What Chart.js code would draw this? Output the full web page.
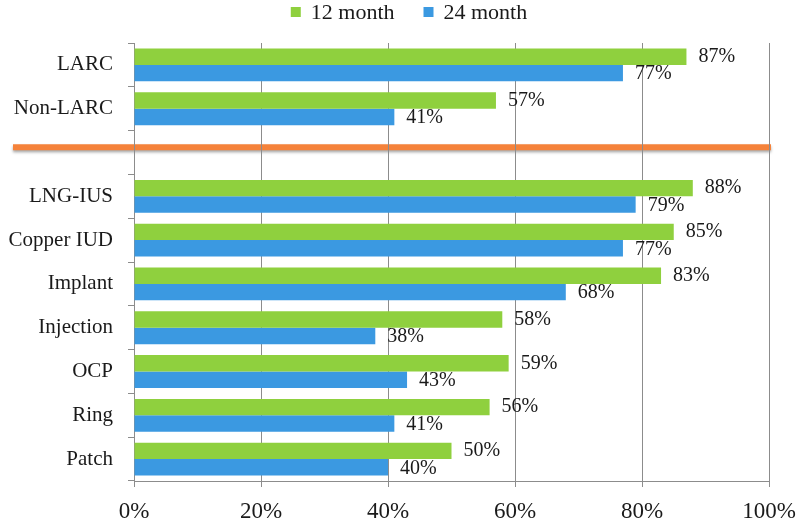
<!DOCTYPE html>
<html>
<head>
<meta charset="utf-8">
<script src="https://cdn.jsdelivr.net/npm/chart.js@4/dist/chart.umd.min.js"></script>
<style>
  html, body { margin: 0; padding: 0; background: #ffffff; }
  #c { display: block; }
</style>
</head>
<body>
<canvas id="c" width="800" height="519"></canvas>
<script>
// ---- data ----
const categories = ["LARC", "Non-LARC", "", "LNG-IUS", "Copper IUD", "Implant", "Injection", "OCP", "Ring", "Patch"];
const month12 = [87, 57, null, 88, 85, 83, 58, 59, 56, 50];
const month24 = [77, 41, null, 79, 77, 68, 38, 43, 41, 40];
const seriesNames = ["12 month", "24 month"];
const xTicks = [0, 20, 40, 60, 80, 100];

const GREEN = "#8fd03e";
const BLUE = "#3b99e1";
const GRID = "#8c8c8c";
const ORANGE = "#f5823a";
const SERIF = "'Liberation Serif', 'DejaVu Serif', serif";

const valueLabels = {
  id: "valueLabels",
  afterDatasetsDraw(chart) {
    const ctx = chart.ctx;
    ctx.save();
    ctx.font = "20px " + SERIF;
    ctx.fillStyle = "#1a1a1a";
    ctx.textAlign = "left";
    ctx.textBaseline = "middle";
    chart.data.datasets.forEach((ds, di) => {
      const meta = chart.getDatasetMeta(di);
      meta.data.forEach((el, i) => {
        const v = ds.data[i];
        if (v === null || v === undefined) return;
        ctx.fillText(v + "%", el.x + 12, el.y + (di === 1 ? 1 : 0));
      });
    });
    ctx.restore();
  }
};

const separator = {
  id: "separator",
  beforeDraw(chart) {
    const ctx = chart.ctx;
    const y = chart.scales.y.getPixelForValue(1.88);
    ctx.save();
    ctx.strokeStyle = ORANGE;
    ctx.lineWidth = 6;
    ctx.shadowColor = "rgba(0,0,0,0.35)";
    ctx.shadowBlur = 3;
    ctx.shadowOffsetY = 2;
    ctx.beginPath();
    ctx.moveTo(13, y);
    ctx.lineTo(chart.chartArea.right + 2, y);
    ctx.stroke();
    ctx.restore();
  }
};

const customLegend = {
  id: "customLegend",
  afterDraw(chart) {
    const ctx = chart.ctx;
    ctx.save();
    ctx.font = "22px " + SERIF;
    ctx.textBaseline = "middle";
    ctx.textAlign = "left";
    const box = 10, gapText = 10, gapItem = 29;
    const items = chart.data.datasets.map(ds => ({ text: ds.label, color: ds.backgroundColor, w: ctx.measureText(ds.label).width }));
    let total = 0;
    items.forEach((it, i) => { total += box + gapText + it.w + (i < items.length - 1 ? gapItem : 0); });
    let x = 409 - total / 2;
    const cy = 12;
    items.forEach(it => {
      ctx.fillStyle = it.color;
      ctx.fillRect(x, cy - box / 2, box, box);
      x += box + gapText;
      ctx.fillStyle = "#1a1a1a";
      ctx.fillText(it.text, x, cy + 1);
      x += it.w + gapItem;
    });
    ctx.restore();
  }
};

new Chart(document.getElementById("c"), {
  type: "bar",
  data: {
    labels: categories,
    datasets: [
      { label: seriesNames[0], data: month12, backgroundColor: GREEN, borderWidth: 0, categoryPercentage: 0.75, barPercentage: 1.0 },
      { label: seriesNames[1], data: month24, backgroundColor: BLUE, borderWidth: 0, categoryPercentage: 0.75, barPercentage: 1.0 }
    ]
  },
  options: {
    indexAxis: "y",
    responsive: false,
    animation: false,
    layout: { padding: { top: 43, right: 31, left: 0, bottom: 0 } },
    plugins: {
      legend: { display: false },
      tooltip: { enabled: false }
    },
    scales: {
      x: {
        min: 0, max: 100,
        afterBuildTicks(scale) { scale.ticks = xTicks.map(v => ({ value: v })); },
        afterFit(scale) { scale.height = 38; scale.paddingLeft = 0; scale.paddingRight = 0; },
        grid: { color: GRID, lineWidth: 1, drawTicks: true, tickLength: 6 },
        border: { display: true, color: GRID, width: 1 },
        ticks: {
          padding: 11,
          color: "#1a1a1a",
          font: { family: SERIF, size: 23 },
          callback: v => v + "%",
          maxRotation: 0
        }
      },
      y: {
        type: "category",
        afterFit(scale) { scale.width = 134; scale.paddingTop = 0; scale.paddingBottom = 0; },
        grid: { drawOnChartArea: false, drawTicks: true, tickLength: 6, color: GRID, offset: true },
        border: { display: true, color: GRID, width: 1 },
        ticks: {
          padding: 15,
          color: "#1a1a1a",
          font: { family: SERIF, size: 21 },
          autoSkip: false
        }
      }
    }
  },
  plugins: [separator, valueLabels, customLegend]
});
</script>
</body>
</html>
